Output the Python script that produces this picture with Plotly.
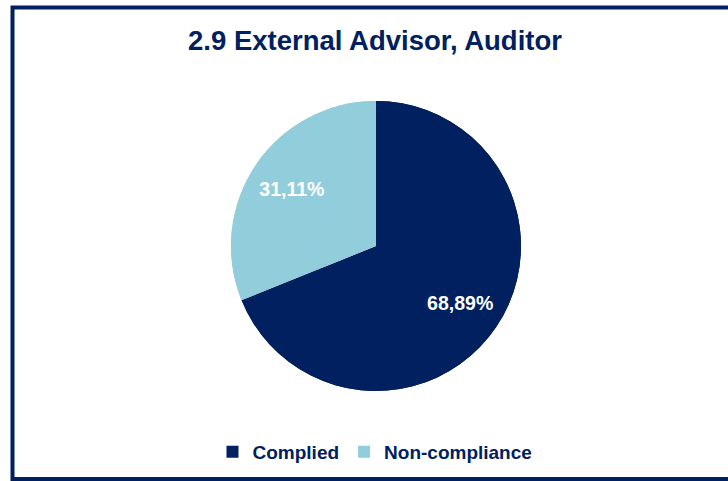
import plotly.graph_objects as go

W, H = 728, 481

categories = ["Complied", "Non-compliance"]
values = [68.89, 31.11]
colors = ["#002060", "#92CDDC"]
title_text = "2.9 External Advisor, Auditor"

NAVY = "#002060"
FONT = "Liberation Sans, Arial, sans-serif"

def px_x(x):
    return x / W

def px_y(y):
    return 1 - y / H

cx = 376 / W
dom_x = [cx - 0.3, cx + 0.3]
dom_y = [px_y(391), px_y(101)]

fig = go.Figure()

# full underlying pie (fills the centre, no text)
fig.add_trace(
    go.Pie(
        labels=categories,
        values=values,
        sort=False,
        direction="clockwise",
        rotation=0,
        marker=dict(colors=colors, line=dict(width=0)),
        textinfo="none",
        showlegend=False,
        hoverinfo="skip",
        domain=dict(x=dom_x, y=dom_y),
    )
)

# labelled pie on top (hole pushes the labels outwards)
fig.add_trace(
    go.Pie(
        labels=categories,
        values=values,
        sort=False,
        direction="clockwise",
        rotation=0,
        hole=0.4,
        marker=dict(colors=colors, line=dict(width=0)),
        texttemplate="%{percent:.2%}",
        textposition="inside",
        insidetextorientation="horizontal",
        textfont=dict(family=FONT, size=19.5, color="white", weight="bold"),
        hoverinfo="label+percent",
        domain=dict(x=dom_x, y=dom_y),
    )
)

fig.update_layout(
    width=W,
    height=H,
    separators=",.",
    margin=dict(l=0, r=0, t=0, b=0, pad=0),
    paper_bgcolor="white",
    plot_bgcolor="white",
    title=dict(
        text=title_text,
        x=375 / W,
        xanchor="center",
        xref="paper",
        y=px_y(40),
        yref="paper",
        yanchor="middle",
        font=dict(family=FONT, size=27.5, color=NAVY, weight="bold"),
    ),
    legend=dict(
        orientation="h",
        x=375 / W,
        xanchor="center",
        y=px_y(452),
        yanchor="middle",
        font=dict(family=FONT, size=19, color=NAVY, weight="bold"),
        itemwidth=30,
        traceorder="normal",
    ),
    shapes=[
        dict(
            type="rect",
            xref="paper",
            yref="paper",
            x0=px_x(12.5),
            x1=px_x(740),
            y0=px_y(479),
            y1=px_y(7.5),
            line=dict(color=NAVY, width=4),
            fillcolor="rgba(0,0,0,0)",
            layer="below",
        )
    ],
)

fig.write_html(
    "out.html",
    config={"displayModeBar": False},
    post_script="document.body.style.margin='0';document.body.style.padding='0';",
)
